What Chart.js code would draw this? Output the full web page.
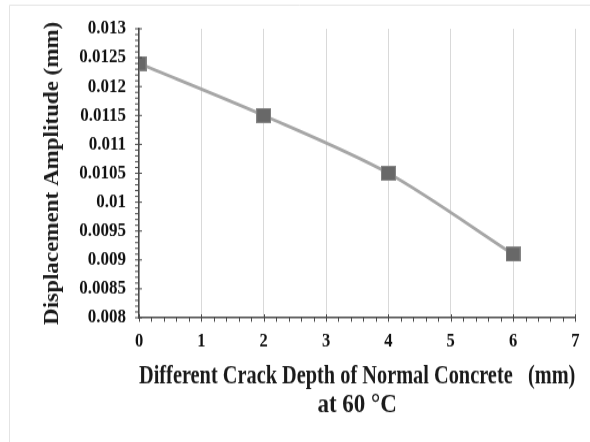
<!DOCTYPE html>
<html>
<head>
<meta charset="utf-8">
<script src="https://cdn.jsdelivr.net/npm/chart.js@4.4.1/dist/chart.umd.min.js"></script>
<style>
  html, body { margin: 0; padding: 0; background: #ffffff; overflow: hidden; }
  #wrap { width: 590px; height: 442px; position: relative; overflow: hidden; }
  /* the figure is drawn with slightly tall lettering: render at 590x384 and stretch vertically */
  #c { position: absolute; left: 0; top: 0; transform-origin: 0 0; transform: scaleY(1.1510417); }
</style>
</head>
<body>
<div id="wrap"><canvas id="c" width="590" height="384"></canvas></div>
<script>
// Crack depth (mm) and measured displacement amplitude (mm)
const crackDepths = [0, 2, 4, 6];
const displacement = [0.0124, 0.0115, 0.0105, 0.0091];

// Axis tick values
const xTicks = [0, 1, 2, 3, 4, 5, 6, 7];
const yTicks = [0.008, 0.0085, 0.009, 0.0095, 0.01, 0.0105, 0.011, 0.0115, 0.012, 0.0125, 0.013];

const xTitle = ['Different Crack Depth of Normal Concrete   (mm)', 'at 60 \u00B0C'];
const yTitle = 'Displacement Amplitude (mm)';

const SERIF = '"Liberation Serif", "Times New Roman", serif';
const AXIS_COLOR = '#4a4a4a';

// Square marker, a little shorter than wide so it stays square after the vertical stretch
function makeMarker() {
  const w = 15, h = 13;
  const cv = document.createElement('canvas');
  cv.width = w; cv.height = h;
  const g = cv.getContext('2d');
  g.fillStyle = '#858585';
  g.fillRect(0, 0, w, h);
  g.fillStyle = '#686868';
  g.fillRect(1, 1, w - 2, h - 2);
  return cv;
}

// Small outward tick marks between the labelled ticks, plus a faint frame
const decorations = {
  id: 'decorations',
  beforeDraw(chart) {
    const ctx = chart.ctx;
    ctx.save();
    ctx.strokeStyle = '#e4e4e4';
    ctx.lineWidth = 1;
    ctx.beginPath();
    ctx.moveTo(9.5, 384);
    ctx.lineTo(9.5, 4.5);
    ctx.lineTo(590, 4.5);
    ctx.stroke();
    ctx.restore();
  },
  afterDatasetsDraw(chart) {
    const ctx = chart.ctx;
    const xs = chart.scales.x, ys = chart.scales.y;
    const area = chart.chartArea;
    ctx.save();
    ctx.strokeStyle = AXIS_COLOR;
    ctx.lineWidth = 1;
    ctx.beginPath();
    // x axis: minor ticks every 0.2, major ticks crossing the axis
    for (let i = 0; i <= 35; i++) {
      const px = Math.round(xs.getPixelForValue(i / 5)) + 0.5;
      if (i % 5 === 0) {
        ctx.moveTo(px, area.bottom - 3);
        ctx.lineTo(px, area.bottom + 3.5);
      } else {
        ctx.moveTo(px, area.bottom);
        ctx.lineTo(px, area.bottom + 3.5);
      }
    }
    // y axis: minor ticks every 0.0001, major ticks crossing the axis
    for (let j = 0; j <= 50; j++) {
      const py = ys.getPixelForValue(0.008 + j * 0.0001);
      if (j % 5 === 0) {
        ctx.moveTo(area.left - 4, py);
        ctx.lineTo(area.left + 3, py);
      } else {
        ctx.moveTo(area.left - 4, py);
        ctx.lineTo(area.left, py);
      }
    }
    ctx.stroke();
    ctx.restore();
  }
};

new Chart(document.getElementById('c'), {
  type: 'line',
  data: {
    datasets: [{
      data: crackDepths.map((d, i) => ({ x: d, y: displacement[i] })),
      borderColor: '#a6a6a6',
      borderWidth: 2.8,
      tension: 0.3,
      pointStyle: makeMarker(),
      pointRadius: 8,
      pointHoverRadius: 8,
      fill: false
    }]
  },
  options: {
    responsive: false,
    animation: false,
    events: [],
    layout: { padding: { left: 0, top: 25, right: 9, bottom: 0 } },
    plugins: {
      legend: { display: false },
      tooltip: { enabled: false }
    },
    scales: {
      x: {
        type: 'linear',
        min: 0,
        max: 7,
        afterBuildTicks(scale) { scale.ticks = xTicks.map(v => ({ value: v })); },
        afterFit(scale) { scale.height = 108; },
        grid: { color: '#d9d9d9', lineWidth: 1, drawTicks: false },
        border: { display: true, color: AXIS_COLOR, width: 1.4 },
        ticks: {
          padding: 10.5,
          color: '#111',
          font: { family: SERIF, size: 16.5, weight: 'bold' },
          maxRotation: 0,
          callback: v => String(v)
        },
        title: {
          display: true,
          text: xTitle,
          color: '#1a1a1a',
          font: { family: SERIF, size: 23, weight: 'bold', lineHeight: 1.1 },
          padding: { top: 0, bottom: 19 }
        }
      },
      y: {
        type: 'linear',
        min: 0.008,
        max: 0.013,
        afterBuildTicks(scale) { scale.ticks = yTicks.map(v => ({ value: v })); },
        afterFit(scale) { scale.width = 139; },
        grid: { display: true, color: 'rgba(0,0,0,0)', drawTicks: false },
        border: { display: true, color: AXIS_COLOR, width: 1.5 },
        ticks: {
          padding: 13,
          color: '#111',
          font: { family: SERIF, size: 17, weight: 'bold' },
          callback: v => String(parseFloat(v.toFixed(4)))
        },
        title: {
          display: true,
          text: yTitle,
          color: '#1a1a1a',
          font: { family: SERIF, size: 20, weight: 'bold', lineHeight: 1.2 },
          padding: { top: 41, bottom: 0 }
        }
      }
    }
  },
  plugins: [decorations]
});
</script>
</body>
</html>
